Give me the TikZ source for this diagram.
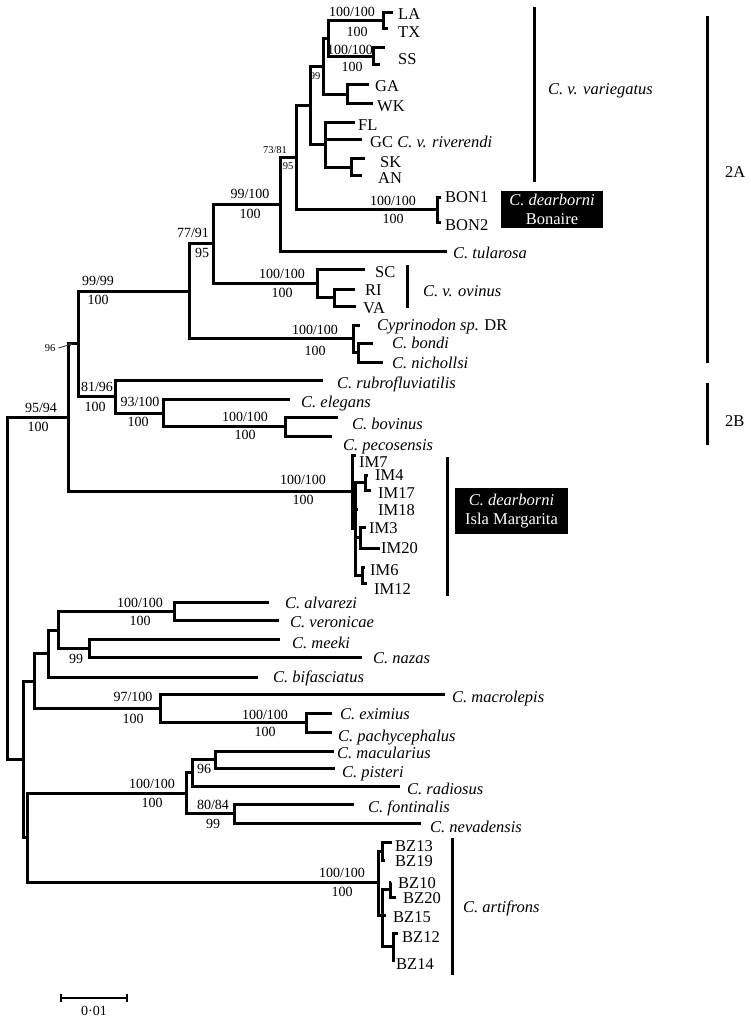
\documentclass[tikz,border=0pt]{standalone}
\usepackage{fontspec}
\setmainfont{Liberation Serif}
\usetikzlibrary{arrows.meta}
\begin{document}
\begin{tikzpicture}[x=1pt,y=-1pt,
  br/.style={line width=3pt, line join=miter},
  lab/.style={anchor=west, font=\fontsize{16.5}{18}\selectfont, inner sep=0pt, text height=11pt, text depth=0pt},
  sup/.style={font=\fontsize{14}{16}\selectfont, inner sep=0pt, text height=9.5pt, text depth=0pt},
  sml/.style={font=\fontsize{10.5}{12}\selectfont, inner sep=0pt, text height=7pt, text depth=0pt},
  bar/.style={line width=3pt},
  blackbox/.style={fill=black, text=white, align=center, font=\fontsize{16.5}{19}\selectfont, inner sep=0pt}]
\useasboundingbox (0,0) rectangle (751,1019);
\fill[white] (0,0) rectangle (751,1019);
% ---------- internal nodes and tips ----------
\coordinate (root) at (7,588);
\coordinate (n9594) at (68,417.8);
\coordinate (n96) at (78,343.7);
\coordinate (n9999) at (189,291);
\coordinate (n7791) at (213,243.5);
\coordinate (n99100) at (280,204);
\coordinate (n7381) at (296,157.5);
\coordinate (nA) at (310,105.5);
\coordinate (n99) at (323,66.5);
\coordinate (nLTS) at (328,38.5);
\coordinate (nLT) at (383,21);
\coordinate (tLA) at (393,13);
\coordinate (tTX) at (388,29);
\coordinate (nSS) at (373,56.5);
\coordinate (tSS1) at (385,48);
\coordinate (tSS2) at (380,65);
\coordinate (nGW) at (347,94.5);
\coordinate (tGA) at (369,85);
\coordinate (tWK) at (373,104);
\coordinate (nFGS) at (325,145);
\coordinate (tFL) at (355,123);
\coordinate (tGC) at (362,140);
\coordinate (nSA) at (351,167.5);
\coordinate (tSK) at (365,159);
\coordinate (tAN) at (362,176);
\coordinate (nBON) at (437,209.5);
\coordinate (tB1) at (441,197);
\coordinate (tB2) at (441,222);
\coordinate (tTul) at (447,251);
\coordinate (nOv) at (317,283.5);
\coordinate (tSC) at (365,269);
\coordinate (nRV) at (334,297.5);
\coordinate (tRI) at (355,289);
\coordinate (tVA) at (356,306);
\coordinate (nDR) at (353,338.5);
\coordinate (tDR) at (360,325);
\coordinate (nBN) at (358,352.5);
\coordinate (tBo) at (373,343);
\coordinate (tNi) at (383,362);
\coordinate (n8196) at (115,396.5);
\coordinate (tRub) at (323,380);
\coordinate (n93) at (163,413);
\coordinate (tEle) at (290,399);
\coordinate (nBov) at (285,426.5);
\coordinate (tBov) at (338,417);
\coordinate (tPec) at (332,436);
\coordinate (nIM) at (352,491.5);
\coordinate (tIM7) at (356,455);
\coordinate (nIMb) at (355,528.5);
\coordinate (nI417) at (365,482.5);
\coordinate (tIM4) at (368,475);
\coordinate (tIM17) at (371,490);
\coordinate (tIM18) at (358,509);
\coordinate (nI320) at (360,537.5);
\coordinate (tIM3) at (366,527);
\coordinate (tIM20) at (380,548);
\coordinate (nI612) at (362,575);
\coordinate (tIM6) at (365,567);
\coordinate (tIM12) at (367,583);
% lower clade
\coordinate (n23) at (23,759);
\coordinate (n34) at (34,681);
\coordinate (n48) at (48,653.5);
\coordinate (n58) at (58,630);
\coordinate (nAlv) at (174,611);
\coordinate (tAlv) at (269,602);
\coordinate (tVer) at (279,620);
\coordinate (nMee) at (89,648);
\coordinate (tMee) at (280,639);
\coordinate (tNaz) at (362,657);
\coordinate (tBif) at (258,677);
\coordinate (nMac) at (160,708.5);
\coordinate (tMacl) at (445,694);
\coordinate (nExi) at (306,722.5);
\coordinate (tExi) at (332,713);
\coordinate (tPac) at (332,732);
\coordinate (n27) at (27,837.5);
\coordinate (n186) at (186,793);
\coordinate (n192) at (192,772);
\coordinate (n215) at (215,759.5);
\coordinate (tMacu) at (334,751);
\coordinate (tPis) at (335,768);
\coordinate (tRad) at (400,786);
\coordinate (nFon) at (234,813.5);
\coordinate (tFon) at (354,804);
\coordinate (tNev) at (421,823);
\coordinate (nBZ) at (378,882);
\coordinate (nB1319) at (382,851);
\coordinate (tBZ13) at (392,842);
\coordinate (tBZ19) at (385,860);
\coordinate (nBrest) at (382,915);
\coordinate (nB1020) at (390,889.5);
\coordinate (tBZ10) at (391,882);
\coordinate (tBZ20) at (396,897);
\coordinate (tBZ15) at (386,915);
\coordinate (nB1214) at (393,946.5);
\coordinate (tBZ12) at (398,933);
\coordinate (tBZ14) at (395,960);
% ---------- branches ----------
\foreach \p/\c in {root/n9594,root/n23,n9594/n96,n9594/nIM,n96/n9999,n96/n8196,
  n9999/n7791,n9999/nDR,n7791/n99100,n7791/nOv,n99100/n7381,n99100/tTul,
  n7381/nA,n7381/nBON,nA/n99,nA/nFGS,n99/nLTS,n99/nGW,nLTS/nLT,nLTS/nSS,
  nLT/tLA,nLT/tTX,nSS/tSS1,nSS/tSS2,nGW/tGA,nGW/tWK,nFGS/tFL,nFGS/tGC,nFGS/nSA,
  nSA/tSK,nSA/tAN,nBON/tB1,nBON/tB2,nOv/tSC,nOv/nRV,nRV/tRI,nRV/tVA,
  nDR/tDR,nDR/nBN,nBN/tBo,nBN/tNi,n8196/tRub,n8196/n93,n93/tEle,n93/nBov,
  nBov/tBov,nBov/tPec,nIM/tIM7,nIM/nIMb,nIMb/nI417,nIMb/tIM18,nIMb/nI320,nIMb/nI612,
  nI417/tIM4,nI417/tIM17,nI320/tIM3,nI320/tIM20,nI612/tIM6,nI612/tIM12,
  n23/n34,n23/n27,n34/n48,n34/nMac,n48/n58,n48/tBif,n58/nAlv,n58/nMee,
  nAlv/tAlv,nAlv/tVer,nMee/tMee,nMee/tNaz,nMac/tMacl,nMac/nExi,nExi/tExi,nExi/tPac,
  n27/n186,n27/nBZ,n186/n192,n186/nFon,n192/n215,n192/tRad,n215/tMacu,n215/tPis,
  nFon/tFon,nFon/tNev,nBZ/nB1319,nBZ/nBrest,nB1319/tBZ13,nB1319/tBZ19,
  nBrest/nB1020,nBrest/tBZ15,nBrest/nB1214,nB1020/tBZ10,nB1020/tBZ20,
  nB1214/tBZ12,nB1214/tBZ14}
  \draw[br] (\p) |- (\c);
% ---------- tip labels ----------
\node[lab] (LA) at (398,14) {LA};
\node[lab] (TX) at (398,32) {TX};
\node[lab] (SS) at (398,59) {SS};
\node[lab] (GA) at (375,86) {GA};
\node[lab] (WK) at (377,106) {WK};
\node[lab] (FL) at (358,125) {FL};
\node[lab] (GC) at (370,142) {GC \textit{C. v. riverendi}};
\node[lab] (SK) at (380,162) {SK};
\node[lab] (AN) at (378,178) {AN};
\node[lab] (BON1) at (445,197) {BON1};
\node[lab] (BON2) at (445,225) {BON2};
\node[lab] (Tul) at (453,253) {\textit{C. tularosa}};
\node[lab] (SC) at (375,272) {SC};
\node[lab] (RI) at (365,290) {RI};
\node[lab] (VA) at (363,308) {VA};
\node[lab] (DR) at (377,325) {\textit{Cyprinodon sp.} DR};
\node[lab] (Bo) at (392,343) {\textit{C. bondi}};
\node[lab] (Ni) at (392,363) {\textit{C. nichollsi}};
\node[lab] (Rub) at (337,383) {\textit{C. rubrofluviatilis}};
\node[lab] (Ele) at (301,402) {\textit{C. elegans}};
\node[lab] (Bov) at (352,424) {\textit{C. bovinus}};
\node[lab] (Pec) at (343,445) {\textit{C. pecosensis}};
\node[lab] (IM7) at (359,461.5) {IM7};
\node[lab] (IM4) at (375,475) {IM4};
\node[lab] (IM17) at (378,493) {IM17};
\node[lab] (IM18) at (378,510) {IM18};
\node[lab] (IM3) at (369,528) {IM3};
\node[lab] (IM20) at (381,548) {IM20};
\node[lab] (IM6) at (370,570) {IM6};
\node[lab] (IM12) at (374,589) {IM12};
\node[lab] (Alv) at (285,603) {\textit{C. alvarezi}};
\node[lab] (Ver) at (290,622) {\textit{C. veronicae}};
\node[lab] (Mee) at (292,643) {\textit{C. meeki}};
\node[lab] (Naz) at (373,658) {\textit{C. nazas}};
\node[lab] (Bif) at (273,677) {\textit{C. bifasciatus}};
\node[lab] (Macl) at (452,697) {\textit{C. macrolepis}};
\node[lab] (Exi) at (340,714) {\textit{C. eximius}};
\node[lab] (Pac) at (338,736) {\textit{C. pachycephalus}};
\node[lab] (Macu) at (337,753) {\textit{C. macularius}};
\node[lab] (Pis) at (342,772) {\textit{C. pisteri}};
\node[lab] (Rad) at (407,789) {\textit{C. radiosus}};
\node[lab] (Fon) at (368,807) {\textit{C. fontinalis}};
\node[lab] (Nev) at (430,827) {\textit{C. nevadensis}};
\node[lab] (BZ13) at (395,846) {BZ13};
\node[lab] (BZ19) at (395,861) {BZ19};
\node[lab] (BZ10) at (398,883) {BZ10};
\node[lab] (BZ20) at (403,898) {BZ20};
\node[lab] (BZ15) at (393,917) {BZ15};
\node[lab] (BZ12) at (402,937) {BZ12};
\node[lab] (BZ14) at (396,964) {BZ14};
% ---------- support values ----------
\node[sup] (s01) at (352,12) {100/100};
\node[sup] (s02) at (357,32) {100};
\node[sup] (s03) at (350,50) {100/100};
\node[sup] (s04) at (352,67) {100};
\node[sml] (s05) at (315,76) {99};
\node[sml] (s06) at (275,150) {73/81};
\node[sml] (s07) at (288,166) {95};
\node[sup] (s08) at (393,201) {100/100};
\node[sup] (s09) at (393,219) {100};
\node[sup] (s10) at (250,194) {99/100};
\node[sup] (s11) at (250,214) {100};
\node[sup] (s12) at (193,233) {77/91};
\node[sup] (s13) at (202,253) {95};
\node[sup] (s14) at (282,274) {100/100};
\node[sup] (s15) at (282,293) {100};
\node[sup] (s16) at (98,281) {99/99};
\node[sup] (s17) at (98,300) {100};
\node[sup] (s18) at (315,330) {100/100};
\node[sup] (s19) at (315,351) {100};
\node[sup] (s20) at (97,387) {81/96};
\node[sup] (s21) at (95,407) {100};
\node[sup] (s22) at (140,402) {93/100};
\node[sup] (s23) at (138,422) {100};
\node[sup] (s24) at (245,417) {100/100};
\node[sup] (s25) at (245,435) {100};
\node[sup] (s26) at (41,408) {95/94};
\node[sup] (s27) at (38,427) {100};
\node[sml] (s28) at (50,348) {96};
\draw[line width=0.9pt, draw=black!75, -{Stealth[length=4pt,width=3pt]}] (s28.east) ++(3,0) -- (n96 -| 73,0);
\node[sup] (s29) at (303,480) {100/100};
\node[sup] (s30) at (303,500) {100};
\node[sup] (s31) at (140,603) {100/100};
\node[sup] (s32) at (140,621) {100};
\node[sup] (s33) at (76,659) {99};
\node[sup] (s34) at (133,697) {97/100};
\node[sup] (s35) at (133,719) {100};
\node[sup] (s36) at (265,715) {100/100};
\node[sup] (s37) at (265,732) {100};
\node[sup] (s38) at (204,769) {96};
\node[sup] (s39) at (152,784) {100/100};
\node[sup] (s40) at (152,803) {100};
\node[sup] (s41) at (213,805) {80/84};
\node[sup] (s42) at (213,824) {99};
\node[sup] (s43) at (342,873) {100/100};
\node[sup] (s44) at (342,892) {100};
% ---------- clade bars ----------
\coordinate (vvT) at (534,7);   \coordinate (vvB) at (534,182);
\draw[bar] (vvT) -- (vvB);
\node[lab] (vv) at (548,89) {\textit{C. v. variegatus}};
\coordinate (ovT) at (407,265); \coordinate (ovB) at (407,308);
\draw[bar] (ovT) -- (ovB);
\node[lab] (ov) at (423,291) {\textit{C. v. ovinus}};
\coordinate (imT) at (447,457); \coordinate (imB) at (447,596);
\draw[bar] (imT) -- (imB);
\coordinate (bzT) at (452,838); \coordinate (bzB) at (452,975);
\draw[bar] (bzT) -- (bzB);
\node[lab] (art) at (463,907) {\textit{C. artifrons}};
\coordinate (aT) at (707,16); \coordinate (aB) at (707,363);
\draw[bar] (aT) -- (aB);
\node[lab] (gA) at (725,172) {2A};
\coordinate (bT) at (707,383); \coordinate (bB) at (707,445);
\draw[bar] (bT) -- (bB);
\node[lab] (gB) at (725,421) {2B};
% ---------- black boxes ----------
\node[blackbox, minimum width=102pt, minimum height=37pt] (bon) at (552,209.5) {\textit{C. dearborni}\\Bonaire};
\node[blackbox, minimum width=113pt, minimum height=46pt] (isl) at (511.5,511) {\textit{C. dearborni}\\Isla Margarita};
% ---------- scale bar ----------
\coordinate (sbL) at (61,998); \coordinate (sbR) at (127,998);
\draw[line width=2pt] (sbL) -- (sbR);
\draw[line width=1.5pt] (sbL) ++(0,-4) -- ++(0,8);
\draw[line width=1.5pt] (sbR) ++(0,-4) -- ++(0,8);
\node[sup] (sbl) at (94,1011) {0·01};
\end{tikzpicture}
\end{document}
